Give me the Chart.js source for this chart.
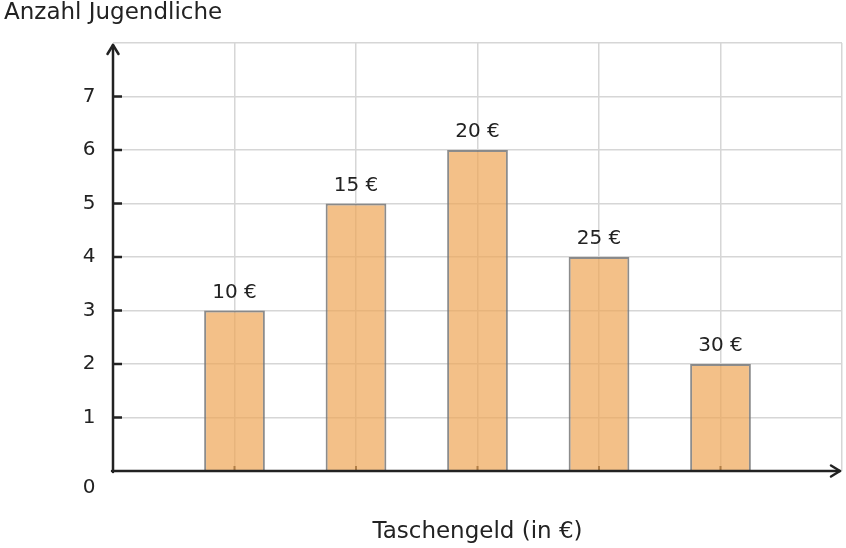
<!DOCTYPE html>
<html>
<head>
<meta charset="utf-8">
<script src="https://cdn.jsdelivr.net/npm/chart.js@4"></script>
<style>
  html, body { margin: 0; padding: 0; background: #fff; }
  #wrap { width: 846px; height: 548px; }
</style>
</head>
<body>
<div id="wrap"><canvas id="chart" width="846" height="548"></canvas></div>
<script>
// Daten
const kategorien = ['10 €', '15 €', '20 €', '25 €', '30 €'];
const positionen = [1, 2, 3, 4, 5];
const anzahl = [3, 5, 6, 4, 2];
const yLabels = [0, 1, 2, 3, 4, 5, 6, 7];
const xTitel = 'Taschengeld (in €)';
const yTitel = 'Anzahl Jugendliche';

const schrift = '"DejaVu Sans", sans-serif';
const dunkel = '#222222';

// Achsen, Pfeile, Beschriftungen selbst zeichnen
const achsenPlugin = {
    id: 'achsen',
    beforeDatasetsDraw(chart) {
        const ctx = chart.ctx, x = chart.scales.x, y = chart.scales.y;
        const y0 = y.getPixelForValue(0);
        ctx.save();
        ctx.strokeStyle = dunkel;
        ctx.lineWidth = 2;
        // kleine Striche an der x-Achse
        positionen.forEach(function (p) {
            const px = x.getPixelForValue(p);
            ctx.beginPath();
            ctx.moveTo(px, y0);
            ctx.lineTo(px, y0 - 5);
            ctx.stroke();
        });
        ctx.restore();
    },
    afterDatasetsDraw(chart) {
        const ctx = chart.ctx, x = chart.scales.x, y = chart.scales.y;
        const area = chart.chartArea;
        const x0 = x.getPixelForValue(0), y0 = y.getPixelForValue(0);
        ctx.save();
        ctx.strokeStyle = dunkel;
        ctx.lineWidth = 2.5;
        ctx.lineCap = 'round';
        ctx.lineJoin = 'round';

        // y-Achse mit Pfeil
        ctx.beginPath();
        ctx.moveTo(x0, y0 + 1);
        ctx.lineTo(x0, area.top + 2);
        ctx.stroke();
        ctx.beginPath();
        ctx.moveTo(x0 - 5.5, area.top + 11);
        ctx.lineTo(x0, area.top + 2);
        ctx.lineTo(x0 + 5.5, area.top + 11);
        ctx.stroke();

        // x-Achse mit Pfeil
        ctx.beginPath();
        ctx.moveTo(x0 - 1, y0);
        ctx.lineTo(area.right - 2, y0);
        ctx.stroke();
        ctx.beginPath();
        ctx.moveTo(area.right - 11, y0 - 5.5);
        ctx.lineTo(area.right - 2, y0);
        ctx.lineTo(area.right - 11, y0 + 5.5);
        ctx.stroke();

        // Striche und Zahlen an der y-Achse
        ctx.lineCap = 'butt';
        ctx.fillStyle = dunkel;
        ctx.font = '20px ' + schrift;
        ctx.textAlign = 'center';
        ctx.textBaseline = 'middle';
        yLabels.forEach(function (v) {
            const py = y.getPixelForValue(v);
            if (v === 0) {
                ctx.fillText('0', x0 - 24, py + 17);
                return;
            }
            ctx.beginPath();
            ctx.moveTo(x0, py);
            ctx.lineTo(x0 + 9, py);
            ctx.stroke();
            ctx.fillText(String(v), x0 - 24, py);
        });

        // Beschriftung über den Balken
        ctx.textBaseline = 'bottom';
        const meta = chart.getDatasetMeta(0);
        meta.data.forEach(function (bar, i) {
            ctx.fillText(kategorien[i], bar.x, bar.y - 8);
        });

        // Titel
        ctx.font = '23px ' + schrift;
        ctx.textAlign = 'center';
        ctx.textBaseline = 'middle';
        ctx.fillText(xTitel, (area.left + area.right) / 2, 532);
        ctx.textAlign = 'left';
        ctx.fillText(yTitel, 4, 13);
        ctx.restore();
    }
};

const config = {
    type: 'bar',
    data: {
        datasets: [{
            data: positionen.map(function (p, i) { return { x: p, y: anzahl[i] }; }),
            backgroundColor: 'rgba(238, 165, 85, 0.7)',
            borderColor: 'rgba(120, 120, 120, 0.85)',
            borderWidth: 2,
            barPercentage: 0.5,
            categoryPercentage: 1
        }]
    },
    options: {
        responsive: false,
        animation: false,
        events: [],
        layout: { padding: { left: 113, top: 43, right: 4, bottom: 77 } },
        plugins: { legend: { display: false }, tooltip: { enabled: false } },
        scales: {
            x: {
                type: 'linear',
                offset: false,
                min: 0, max: 6,
                ticks: { stepSize: 1, display: false },
                grid: { color: '#d6d6d6', lineWidth: 1.5, drawTicks: false, offset: false },
                border: { display: false }
            },
            y: {
                min: 0, max: 8,
                ticks: { stepSize: 1, display: false },
                grid: { color: '#d6d6d6', lineWidth: 1.5, drawTicks: false },
                border: { display: false }
            }
        }
    },
    plugins: [achsenPlugin]
};

new Chart(document.getElementById('chart'), config);
</script>
</body>
</html>
